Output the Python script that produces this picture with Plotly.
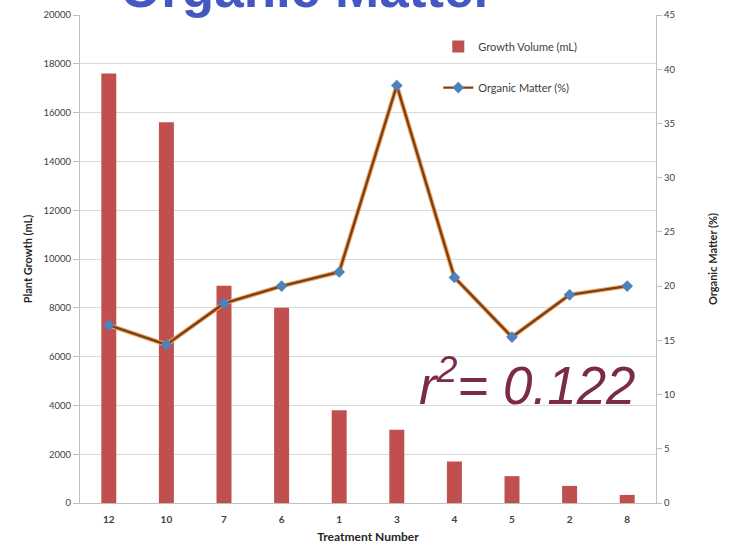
import plotly.graph_objects as go

treatments = ["12", "10", "7", "6", "1", "3", "4", "5", "2", "8"]
growth_volume = [17600, 15600, 8900, 8000, 3800, 3000, 1700, 1100, 700, 330]
organic_matter = [16.4, 14.6, 18.4, 20.0, 21.3, 38.5, 20.8, 15.3, 19.2, 20.0]

left_ticks = list(range(0, 20001, 2000))
right_ticks = list(range(0, 46, 5))

fig = go.Figure()

fig.add_trace(go.Bar(
    x=treatments, y=growth_volume, name="Growth Volume (mL)",
    marker=dict(color="#C0504D", line=dict(width=0)),
    width=0.26, yaxis="y", legendgroup="a",
))
# orange glow under the line
fig.add_trace(go.Scatter(
    x=treatments, y=organic_matter, mode="lines", yaxis="y2",
    line=dict(color="#EDA868", width=4.5), showlegend=False, hoverinfo="skip",
))
fig.add_trace(go.Scatter(
    x=treatments, y=organic_matter, name="Organic Matter (%)", mode="lines+markers",
    yaxis="y2", legendgroup="b",
    line=dict(color="#7F3F12", width=2.4),
    marker=dict(symbol="diamond", size=9, color="#4F81BD", line=dict(width=0)),
))

tickfont = dict(family="Lato, Open Sans, sans-serif", size=9.5, color="#404040")
titlefont = dict(family="Lato, Open Sans, sans-serif", size=11, color="#262626", weight="bold")

fig.update_layout(
    width=734, height=546,
    margin=dict(l=80, r=78, t=15, b=43, autoexpand=False),
    paper_bgcolor="white", plot_bgcolor="white",
    xaxis=dict(
        type="category", categoryorder="array", categoryarray=treatments,
        range=[-0.5, len(treatments) - 0.5], automargin=False,
        showline=True, linecolor="#BFBFBF", linewidth=1,
        ticks="", ticklabelstandoff=7,
        tickfont=dict(family="Lato, Open Sans, sans-serif", size=10, color="#404040", weight="bold"),
        title=dict(text="Treatment Number", font=dict(family="Lato, Open Sans, sans-serif", size=12, color="#262626", weight="bold"), standoff=8),
        showgrid=False,
    ),
    yaxis=dict(
        range=[0, 20000], tickvals=left_ticks, ticktext=[str(v) for v in left_ticks],
        automargin=False,
        showgrid=True, gridcolor="#D9D9D9", gridwidth=1,
        showline=True, linecolor="#BFBFBF", linewidth=1,
        ticks="outside", ticklen=6, tickcolor="#BFBFBF",
        tickfont=tickfont,
        title=dict(text="Plant Growth (mL)", font=titlefont, standoff=8),
        zeroline=False,
    ),
    yaxis2=dict(
        range=[0, 45], tickvals=right_ticks, ticktext=[str(v) for v in right_ticks],
        overlaying="y", side="right", showgrid=False, automargin=False,
        showline=True, linecolor="#BFBFBF", linewidth=1,
        ticks="outside", ticklen=5, tickcolor="#BFBFBF",
        tickfont=tickfont,
        title=dict(text="Organic Matter (%)", font=titlefont, standoff=34),
        zeroline=False,
    ),
    legend=dict(
        x=0.622, y=0.965, xanchor="left", yanchor="top",
        bgcolor="rgba(0,0,0,0)", font=dict(family="Lato, Open Sans, sans-serif", size=11, color="#404040"),
        tracegroupgap=22, itemwidth=30,
    ),
    showlegend=True,
    shapes=[
        dict(type="rect", xref="paper", yref="paper", layer="above",
             x0=(100 - 80) / 576, x1=(518 - 80) / 576,
             y0=(503 - 20) / 488, y1=(503 + 5) / 488,
             fillcolor="white", line=dict(width=0)),
    ],
    annotations=[
        dict(
            text="<b>Organic Matter</b>", xref="paper", yref="paper",
            x=(307 - 80) / 576, y=1.0, yanchor="middle", xanchor="center",
            yshift=27,
            font=dict(family="Liberation Sans, Arial, sans-serif", size=53, color="#4458C4"),
            showarrow=False, bgcolor="white", borderpad=0,
        ),
        dict(
            text="<i>r<sup>2</sup>= 0.122</i>", xref="paper", yref="paper",
            x=(527 - 80) / 576, y=(503 - 381) / 488, xanchor="center", yanchor="middle",
            font=dict(family="Liberation Sans, Arial, sans-serif", size=53, color="#7B2A4A"),
            showarrow=False,
        ),
    ],
)

fig.write_html("out.html", config={"displayModeBar": False},
               post_script="document.body.style.margin='0';")
